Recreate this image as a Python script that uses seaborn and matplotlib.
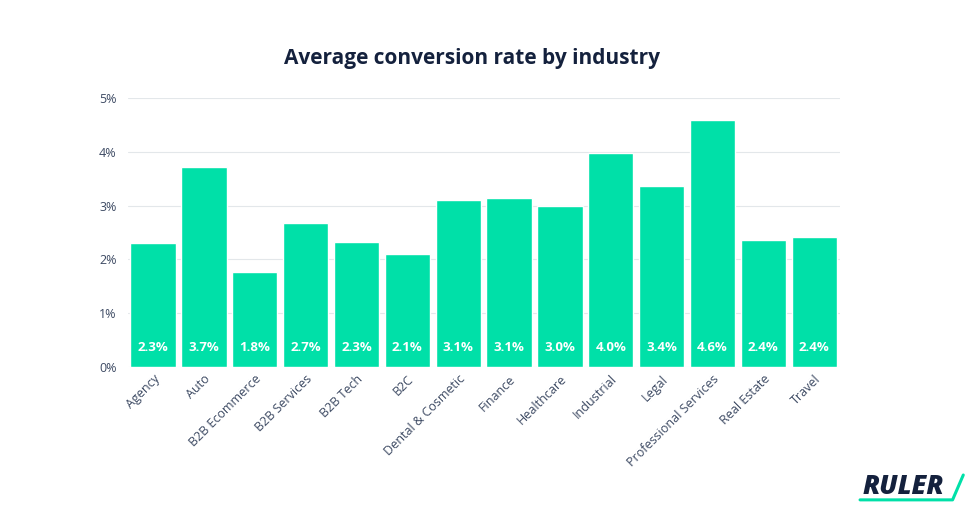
import matplotlib
matplotlib.use("Agg")
import matplotlib.pyplot as plt
import seaborn as sns
import pandas as pd
from matplotlib.lines import Line2D

# Chart data
industries = ["Agency", "Auto", "B2B Ecommerce", "B2B Services", "B2B Tech", "B2C",
              "Dental & Cosmetic", "Finance", "Healthcare", "Industrial", "Legal",
              "Professional Services", "Real Estate", "Travel"]
rates = [2.30, 3.72, 1.77, 2.68, 2.32, 2.10, 3.10, 3.14, 2.99, 3.98, 3.36, 4.59, 2.36, 2.42]
rate_labels = ["2.3%", "3.7%", "1.8%", "2.7%", "2.3%", "2.1%", "3.1%", "3.1%",
               "3.0%", "4.0%", "3.4%", "4.6%", "2.4%", "2.4%"]
y_ticks = [0, 1, 2, 3, 4, 5]
y_tick_labels = ["0%", "1%", "2%", "3%", "4%", "5%"]

GREEN = "#00e0a8"
NAVY = "#14213d"
TICK = "#3d4a63"

sns.set_style("white")
plt.rcParams["font.family"] = ["Open Sans", "DejaVu Sans"]

df = pd.DataFrame({"industry": industries, "rate": rates})

fig = plt.figure(figsize=(9.74, 5.18), dpi=100)
ax = fig.add_axes([0.131, 0.2915, 0.731, 0.5195])

sns.barplot(data=df, x="industry", y="rate", color=GREEN, saturation=1,
            width=0.89, ax=ax, zorder=3)

ax.set_ylim(0, 5)
ax.set_xlim(-0.5, len(industries) - 0.5)
ax.set_yticks(y_ticks)
ax.set_yticklabels(y_tick_labels)
ax.yaxis.grid(True, color="#e3e7ea", linewidth=0.8, zorder=0)
ax.set_xlabel("")
ax.set_ylabel("")
for s in ax.spines.values():
    s.set_visible(False)
ax.tick_params(axis="y", length=0, pad=8, labelsize=9, labelcolor=TICK)
ax.tick_params(axis="x", length=0, pad=4, labelsize=9, labelcolor=TICK)
plt.setp(ax.get_xticklabels(), rotation=45, ha="right", rotation_mode="anchor")

for i, lab in enumerate(rate_labels):
    ax.text(i, 0.36, lab, ha="center", va="center", color="white",
            fontsize=9.5, fontweight="bold")

fig.text(0.485, 0.888, "Average conversion rate by industry", ha="center",
         va="center", fontsize=15, fontweight="bold", color=NAVY)

# logo
fig.text(0.886, 0.047, "RULER", ha="left", va="baseline", fontsize=19,
         fontweight="heavy", style="italic", color=NAVY)
fig.add_artist(Line2D([0.883, 0.978, 0.989], [0.035, 0.035, 0.083],
                      transform=fig.transFigure, color=GREEN, linewidth=2.2))

fig.savefig("out.png", dpi=100, facecolor="white")
